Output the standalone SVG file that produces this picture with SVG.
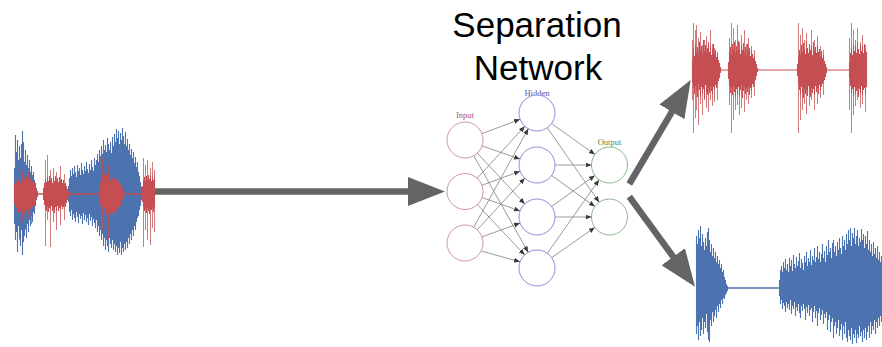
<svg xmlns="http://www.w3.org/2000/svg" width="882" height="347" viewBox="0 0 882 347">
  <defs>
    <marker id="bigHead" markerUnits="userSpaceOnUse" markerWidth="38" markerHeight="30" refX="2" refY="14.5" orient="auto">
      <path d="M0,0 L37,14.5 L0,29 Z" fill="#646464"/>
    </marker>
    <marker id="smallHead" markerUnits="userSpaceOnUse" markerWidth="7" markerHeight="6" refX="6" refY="2.5" orient="auto">
      <path d="M0,0 L6,2.5 L0,5 Z" fill="#3a3a3a"/>
    </marker>
  </defs>
  <style>
    .wave { fill: none; stroke-width: 1.1; }
    .blue { stroke: #4c72b0; }
    .red { stroke: #c44e52; }
    .spike { stroke: #c44e52; stroke-width: 1; opacity: 0.75; fill: none; }
    .mid { fill: none; stroke-width: 1.5; }
    .big { stroke: #646464; stroke-width: 6.5; fill: none; marker-end: url(#bigHead); }
    .edge { stroke: #8e8e8e; stroke-width: 0.9; fill: none; marker-end: url(#smallHead); }
    .neuron { fill: #ffffff; stroke-width: 0.9; }
    .in { stroke: #c98a90; }
    .hid { stroke: #8080d0; }
    .out { stroke: #80b080; }
    .lbl { font-family: "Liberation Serif", "DejaVu Serif", serif; font-size: 8.5px; text-anchor: middle; }
    .title { font-family: "Liberation Sans", Arial, sans-serif; font-size: 35px; text-anchor: middle; fill: #000000; }
  </style>
  <rect width="882" height="347" fill="#ffffff"/>

  <!-- mixture signal -->
  <g id="mixture" transform="translate(0.5 0)">
    <path class="wave blue" d="M14 168V224M15 135V240M16 152V232M17 140V252M18 160V226M19 146V238M20 158V246M21 144V230M22 131V255M23 142V242M24 162V236M25 150V228M26 165V238M27 155V224M28 168V232M29 160V220M30 172V226M31 166V216M32 175V222M33 172V212M34 180V214M35 183V206M36 188V200M68 186V202M69 178V212M70 170V216M71 176V210M72 168V220M73 174V214M74 166V218M75 172V222M76 177V212M77 165V217M78 171V223M79 168V214M80 175V219M81 163V216M82 170V224M83 174V213M84 166V220M85 171V215M86 162V222M87 169V218M88 173V225M89 164V214M90 170V221M91 160V217M92 167V226M93 171V219M94 158V223M95 165V228M96 160V220M97 154V232M98 162V226M99 150V236M100 156V230M101 146V240M102 154V234M103 140V246M104 150V238M105 145V250M106 152V240M107 138V246M108 144V252M109 150V238M110 142V244M111 153V248M112 137V240M113 146V250M114 134V244M115 142V252M116 129V246M117 138V255M118 131V248M119 144V253M120 133V242M121 140V255M122 128V248M123 136V252M124 144V244M125 132V250M126 146V242M127 139V248M128 150V238M129 144V244M130 155V234M131 149V240M132 158V230M133 152V236M134 163V226M135 157V230M136 167V222M137 162V218M138 172V216M139 176V210M140 182V206M141 187V200"/>
    <path class="mid red" d="M14 194H155"/>
    <path class="spike" d="M15 162V236M17 168V226M19 160V240M22 170V222M25 165V230M28 172V218M31 174V224M45 160V246M47 155V220M50 170V247M53 168V222M56 172V230M60 166V225M64 174V220M101 165V235M102 157V230M105 168V220M108 165V240M113 170V247M117 172V226M143 158V247M145 165V230M147 160V240M150 168V245M152 162V228M154 170V232"/>
    <path class="wave red" d="M14 184V204M15 178V211M16 182V208M17 176V206M18 180V213M19 175V209M20 183V212M21 177V205M22 181V210M23 174V208M24 179V214M25 182V207M26 176V210M27 180V206M28 178V212M29 183V205M30 179V209M31 184V204M32 181V207M33 185V203M34 183V206M35 187V201M36 189V199M37 191V197M43 188V200M44 183V205M45 179V209M46 182V211M47 177V207M48 181V212M49 176V208M50 180V210M51 178V206M52 183V211M53 177V209M54 181V213M55 176V207M56 180V210M57 178V206M58 182V211M59 177V208M60 181V210M61 179V206M62 183V209M63 180V207M64 184V205M65 183V207M66 186V203M67 189V200M68 191V197M99 189V199M100 183V205M101 179V209M102 176V212M103 180V214M104 174V208M105 178V211M106 175V215M107 180V209M108 173V212M109 177V210M110 181V214M111 175V208M112 179V212M113 174V210M114 178V214M115 176V208M116 180V211M117 177V209M118 182V207M119 180V205M120 184V206M121 186V202M122 188V200M123 191V197M142 186V202M143 180V207M144 177V211M145 181V209M146 176V213M147 180V208M148 175V211M149 179V214M150 176V209M151 181V210M152 177V207M153 180V212M154 178V208"/>
  </g>

  <!-- first separated source (red) -->
  <g id="source-red" transform="translate(0.5 0)">
    <path class="mid" stroke="#d9898c" d="M692 70H866"/>
    <path class="spike" d="M692 40V100M693 23V133M695 30V118M696 25V110M698 38V125M700 32V104M702 45V115M704 40V100M706 36V108M708 42V112M710 30V100M712 44V106M714 48V102M717 52V100M729 38V105M731 23V133M733 28V120M735 40V110M737 25V105M739 42V115M741 35V108M744 30V112M746 44V100M748 38V104M751 46V98M754 50V96M798 23V133M800 35V120M802 28V110M804 40V104M806 33V114M809 45V106M811 30V100M814 40V110M817 36V104M820 46V98M823 50V95M849 38V110M851 23V133M853 30V115M855 40V106M857 28V100M860 42V108M862 35V104M865 45V112"/>
    <path class="wave red" d="M692 60V82M693 49V88M694 56V94M695 44V86M696 52V91M697 47V97M698 55V84M699 42V90M700 50V96M701 46V87M702 54V93M703 40V89M704 51V98M705 45V85M706 53V92M707 48V95M708 43V88M709 52V93M710 46V86M711 55V91M712 49V94M713 44V87M714 53V90M715 50V85M716 57V88M717 54V83M718 60V81M719 63V78M720 67V73M728 62V79M729 52V86M730 47V93M731 55V88M732 44V95M733 50V86M734 42V92M735 53V97M736 46V89M737 51V94M738 41V87M739 49V96M740 54V90M741 45V85M742 50V98M743 43V91M744 52V87M745 47V94M746 55V89M747 44V92M748 51V86M749 48V95M750 56V88M751 50V91M752 54V84M753 58V87M754 56V82M755 61V80M756 64V76M757 68V72M797 64V76M798 57V84M799 50V90M800 55V95M801 45V87M802 52V93M803 43V98M804 49V88M805 54V94M806 41V90M807 48V96M808 53V86M809 44V92M810 50V97M811 46V88M812 55V93M813 42V89M814 51V95M815 47V86M816 53V92M817 45V88M818 52V94M819 49V85M820 56V90M821 51V87M822 58V84M823 55V82M824 61V80M825 64V77M826 67V73M849 62V78M850 53V86M851 48V93M852 55V89M853 44V96M854 51V87M855 46V94M856 53V91M857 42V88M858 49V97M859 54V89M860 45V93M861 51V86M862 47V95M863 53V90M864 44V88M865 50V94M866 52V87"/>
  </g>

  <!-- second separated source (blue) -->
  <g id="source-blue" transform="translate(0.5 0)">
    <path class="mid blue" d="M726 288H780"/>
    <path class="wave blue" d="M696 236V334M697 244V326M698 230V340M699 238V322M700 226V336M701 246V330M702 234V318M703 242V334M704 250V322M705 238V328M706 246V314M707 232V332M708 228V340M709 240V342M710 252V320M711 244V326M712 256V312M713 248V322M714 258V316M715 252V310M716 262V318M717 256V306M718 264V312M719 260V304M720 268V308M721 264V300M722 272V304M723 270V298M724 277V299M725 280V295M726 284V293M727 286V291M779 280V296M780 270V304M781 266V300M782 272V309M783 262V303M784 268V306M785 259V312M786 270V302M787 264V308M788 272V304M789 258V310M790 266V300M791 260V314M792 271V306M793 255V309M794 264V302M795 268V316M796 257V307M797 266V311M798 261V304M799 253V313M800 268V318M801 259V306M802 263V311M803 270V304M804 256V309M805 262V320M806 252V307M807 266V313M808 258V305M809 262V316M810 250V310M811 265V308M812 256V322M813 260V312M814 248V306M815 262V318M816 257V311M817 246V326M818 259V313M819 252V308M820 262V320M821 254V315M822 244V310M823 258V324M824 251V314M825 262V318M826 246V312M827 255V330M828 240V320M829 252V315M830 248V332M831 258V322M832 243V318M833 240V338M834 252V326M835 246V322M836 256V334M837 242V328M838 250V320M839 238V336M840 248V330M841 254V324M842 236V340M843 246V326M844 240V334M845 250V322M846 234V338M847 244V342M848 230V330M849 240V336M850 228V340M851 246V328M852 233V344M853 238V334M854 228V338M855 244V330M856 236V343M857 230V334M858 246V338M859 238V326M860 242V336M861 229V332M862 240V342M863 234V330M864 248V338M865 236V328M866 244V340M867 231V332M868 250V326M869 240V338M870 252V322M871 244V334M872 256V326M873 242V330M874 254V320M875 248V334M876 258V322M877 246V328M878 260V318M879 252V326M880 262V316M881 256V322"/>
  </g>

  <!-- heading -->
  <g id="title">
    <text class="title" x="537" y="37">Separation</text>
    <text class="title" x="538" y="80">Network</text>
  </g>

  <!-- separation network: layer labels and neurons -->
  <g id="network">
    <g id="layer-input">
      <text class="lbl" x="465" y="118" fill="#b0505a">Input</text>
      <circle class="neuron in" cx="465" cy="140" r="18"/>
      <circle class="neuron in" cx="465" cy="191.5" r="18"/>
      <circle class="neuron in" cx="465" cy="243" r="18"/>
    </g>
    <g id="layer-hidden">
      <text class="lbl" x="537" y="95.5" fill="#5555aa">Hidden</text>
      <circle class="neuron hid" cx="537" cy="113" r="18"/>
      <circle class="neuron hid" cx="537" cy="165" r="18"/>
      <circle class="neuron hid" cx="537" cy="217" r="18"/>
      <circle class="neuron hid" cx="537" cy="268" r="18"/>
    </g>
    <g id="layer-output">
      <text class="lbl" x="609.5" y="144.5" fill="#4a8a4a">Output</text>
      <circle class="neuron out" cx="609.5" cy="165" r="18"/>
      <circle class="neuron out" cx="609.5" cy="217" r="18"/>
    </g>
  </g>

  <!-- connectors -->
  <g id="connectors">
    <g id="network-edges">
      <line class="edge" x1="481.9" y1="133.7" x2="520.1" y2="119.3"/>
      <line class="edge" x1="482.0" y1="145.9" x2="520.0" y2="159.1"/>
      <line class="edge" x1="477.3" y1="153.1" x2="524.7" y2="203.9"/>
      <line class="edge" x1="473.8" y1="155.7" x2="528.2" y2="252.3"/>
      <line class="edge" x1="477.2" y1="178.2" x2="524.8" y2="126.3"/>
      <line class="edge" x1="481.9" y1="185.3" x2="520.1" y2="171.2"/>
      <line class="edge" x1="482.0" y1="197.5" x2="520.0" y2="211.0"/>
      <line class="edge" x1="477.3" y1="204.6" x2="524.7" y2="254.9"/>
      <line class="edge" x1="473.7" y1="227.3" x2="528.3" y2="128.7"/>
      <line class="edge" x1="477.2" y1="229.8" x2="524.8" y2="178.2"/>
      <line class="edge" x1="481.9" y1="236.9" x2="520.1" y2="223.1"/>
      <line class="edge" x1="482.0" y1="251.2" x2="520.0" y2="261.8"/>
      <line class="edge" x1="551.6" y1="123.5" x2="594.9" y2="154.5"/>
      <line class="edge" x1="547.3" y1="127.8" x2="599.2" y2="202.2"/>
      <line class="edge" x1="555.0" y1="165.0" x2="591.5" y2="165.0"/>
      <line class="edge" x1="551.6" y1="175.5" x2="594.9" y2="206.5"/>
      <line class="edge" x1="551.6" y1="206.5" x2="594.9" y2="175.5"/>
      <line class="edge" x1="555.0" y1="217.0" x2="591.5" y2="217.0"/>
      <line class="edge" x1="547.4" y1="253.3" x2="599.1" y2="179.7"/>
      <line class="edge" x1="551.7" y1="257.6" x2="594.8" y2="227.4"/>
    </g>
    <line id="arrow-in" class="big" x1="155" y1="191.5" x2="410" y2="191.5"/>
    <line id="arrow-red" class="big" x1="629.3" y1="184" x2="672.9" y2="110.1"/>
    <line id="arrow-blue" class="big" x1="629.3" y1="196.7" x2="674.4" y2="258.4"/>
  </g>
</svg>
